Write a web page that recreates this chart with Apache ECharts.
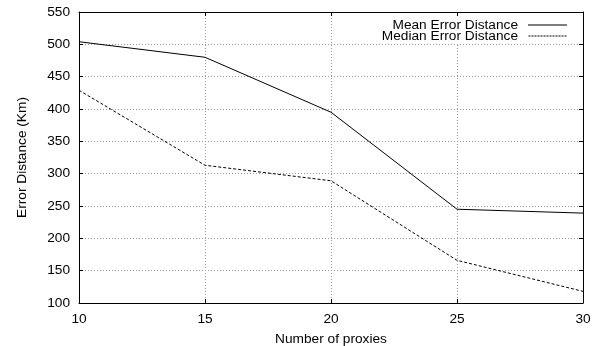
<!DOCTYPE html>
<html><head><meta charset="utf-8">
<script src="https://cdn.jsdelivr.net/npm/echarts@6/dist/echarts.min.js"></script>
<style>html,body{margin:0;padding:0;background:#fff}#c{width:597px;height:346px}</style>
</head><body><div id="c"></div>
<script>
const proxies = [10, 15, 20, 25, 30];
const meanError = [504, 480, 395, 245, 239];
const medianError = [429, 313, 289, 166, 118];
const seriesNames = ['Mean Error Distance', 'Median Error Distance'];
const font = 'Liberation Sans, Arial, Helvetica, sans-serif';
const fs = 13.7;
const chart = echarts.init(document.getElementById('c'), null, {renderer: 'canvas'});
const axisCommon = {
  axisLine: {show: true, onZero: false, lineStyle: {color: '#000', width: 1}},
  axisTick: {show: true, inside: true, length: 4, lineStyle: {color: '#000'}},
};
let dashPath = 'path://';
for (let x = 0; x < 39; x += 3) dashPath += 'M' + x + ',0h2v1h-2z';
chart.setOption({
  animation: false,
  backgroundColor: '#fff',
  grid: {left: 79, right: 14, top: 12, bottom: 43, containLabel: false, outerBoundsMode: 'none'},
  legend: {
    right: 28, top: 18, orient: 'vertical', align: 'right',
    itemWidth: 39, itemHeight: 1, itemGap: -3,
    backgroundColor: '#fff', padding: [0, 2, 0, 4],
    textStyle: {fontFamily: font, fontSize: fs, color: '#000', padding: [0, 5, 0, 0]},
    data: [
      {name: seriesNames[0], icon: 'path://M0,0h39v1h-39z', itemStyle: {color: '#000'}},
      {name: seriesNames[1], icon: dashPath, itemStyle: {color: '#000'}}
    ]
  },
  xAxis: [{
    type: 'value', min: 10, max: 30, interval: 5,
    name: 'Number of proxies', nameLocation: 'middle', nameGap: 29,
    nameTextStyle: {fontFamily: font, fontSize: fs, color: '#000'},
    ...axisCommon,
    axisLabel: {fontFamily: font, fontSize: fs, color: '#000', margin: 9},
    splitLine: {show: true, lineStyle: {color: '#999', type: [1, 2], width: 1}}
  }, {
    type: 'value', min: 10, max: 30, interval: 5, position: 'top',
    ...axisCommon, axisLabel: {show: false}, splitLine: {show: false}
  }],
  yAxis: [{
    type: 'value', min: 100, max: 550, interval: 50,
    name: 'Error Distance (Km)', nameLocation: 'middle', nameGap: 50, nameRotate: 90,
    nameTextStyle: {fontFamily: font, fontSize: fs, color: '#000'},
    ...axisCommon,
    axisLabel: {fontFamily: font, fontSize: fs, color: '#000', margin: 9},
    splitLine: {show: true, lineStyle: {color: '#999', type: [1, 2], width: 1}}
  }, {
    type: 'value', min: 100, max: 550, interval: 50, position: 'right',
    ...axisCommon, axisLabel: {show: false}, splitLine: {show: false}
  }],
  series: [{
    name: seriesNames[0], type: 'line', showSymbol: false, symbol: 'none',
    data: proxies.map((p, i) => [p, meanError[i]]),
    lineStyle: {color: '#000', width: 1, type: 'solid'},
    itemStyle: {color: '#000'}
  }, {
    name: seriesNames[1], type: 'line', showSymbol: false, symbol: 'none',
    data: proxies.map((p, i) => [p, medianError[i]]),
    lineStyle: {color: '#000', width: 1, type: [3, 2]},
    itemStyle: {color: '#000'}
  }]
});
</script></body></html>
